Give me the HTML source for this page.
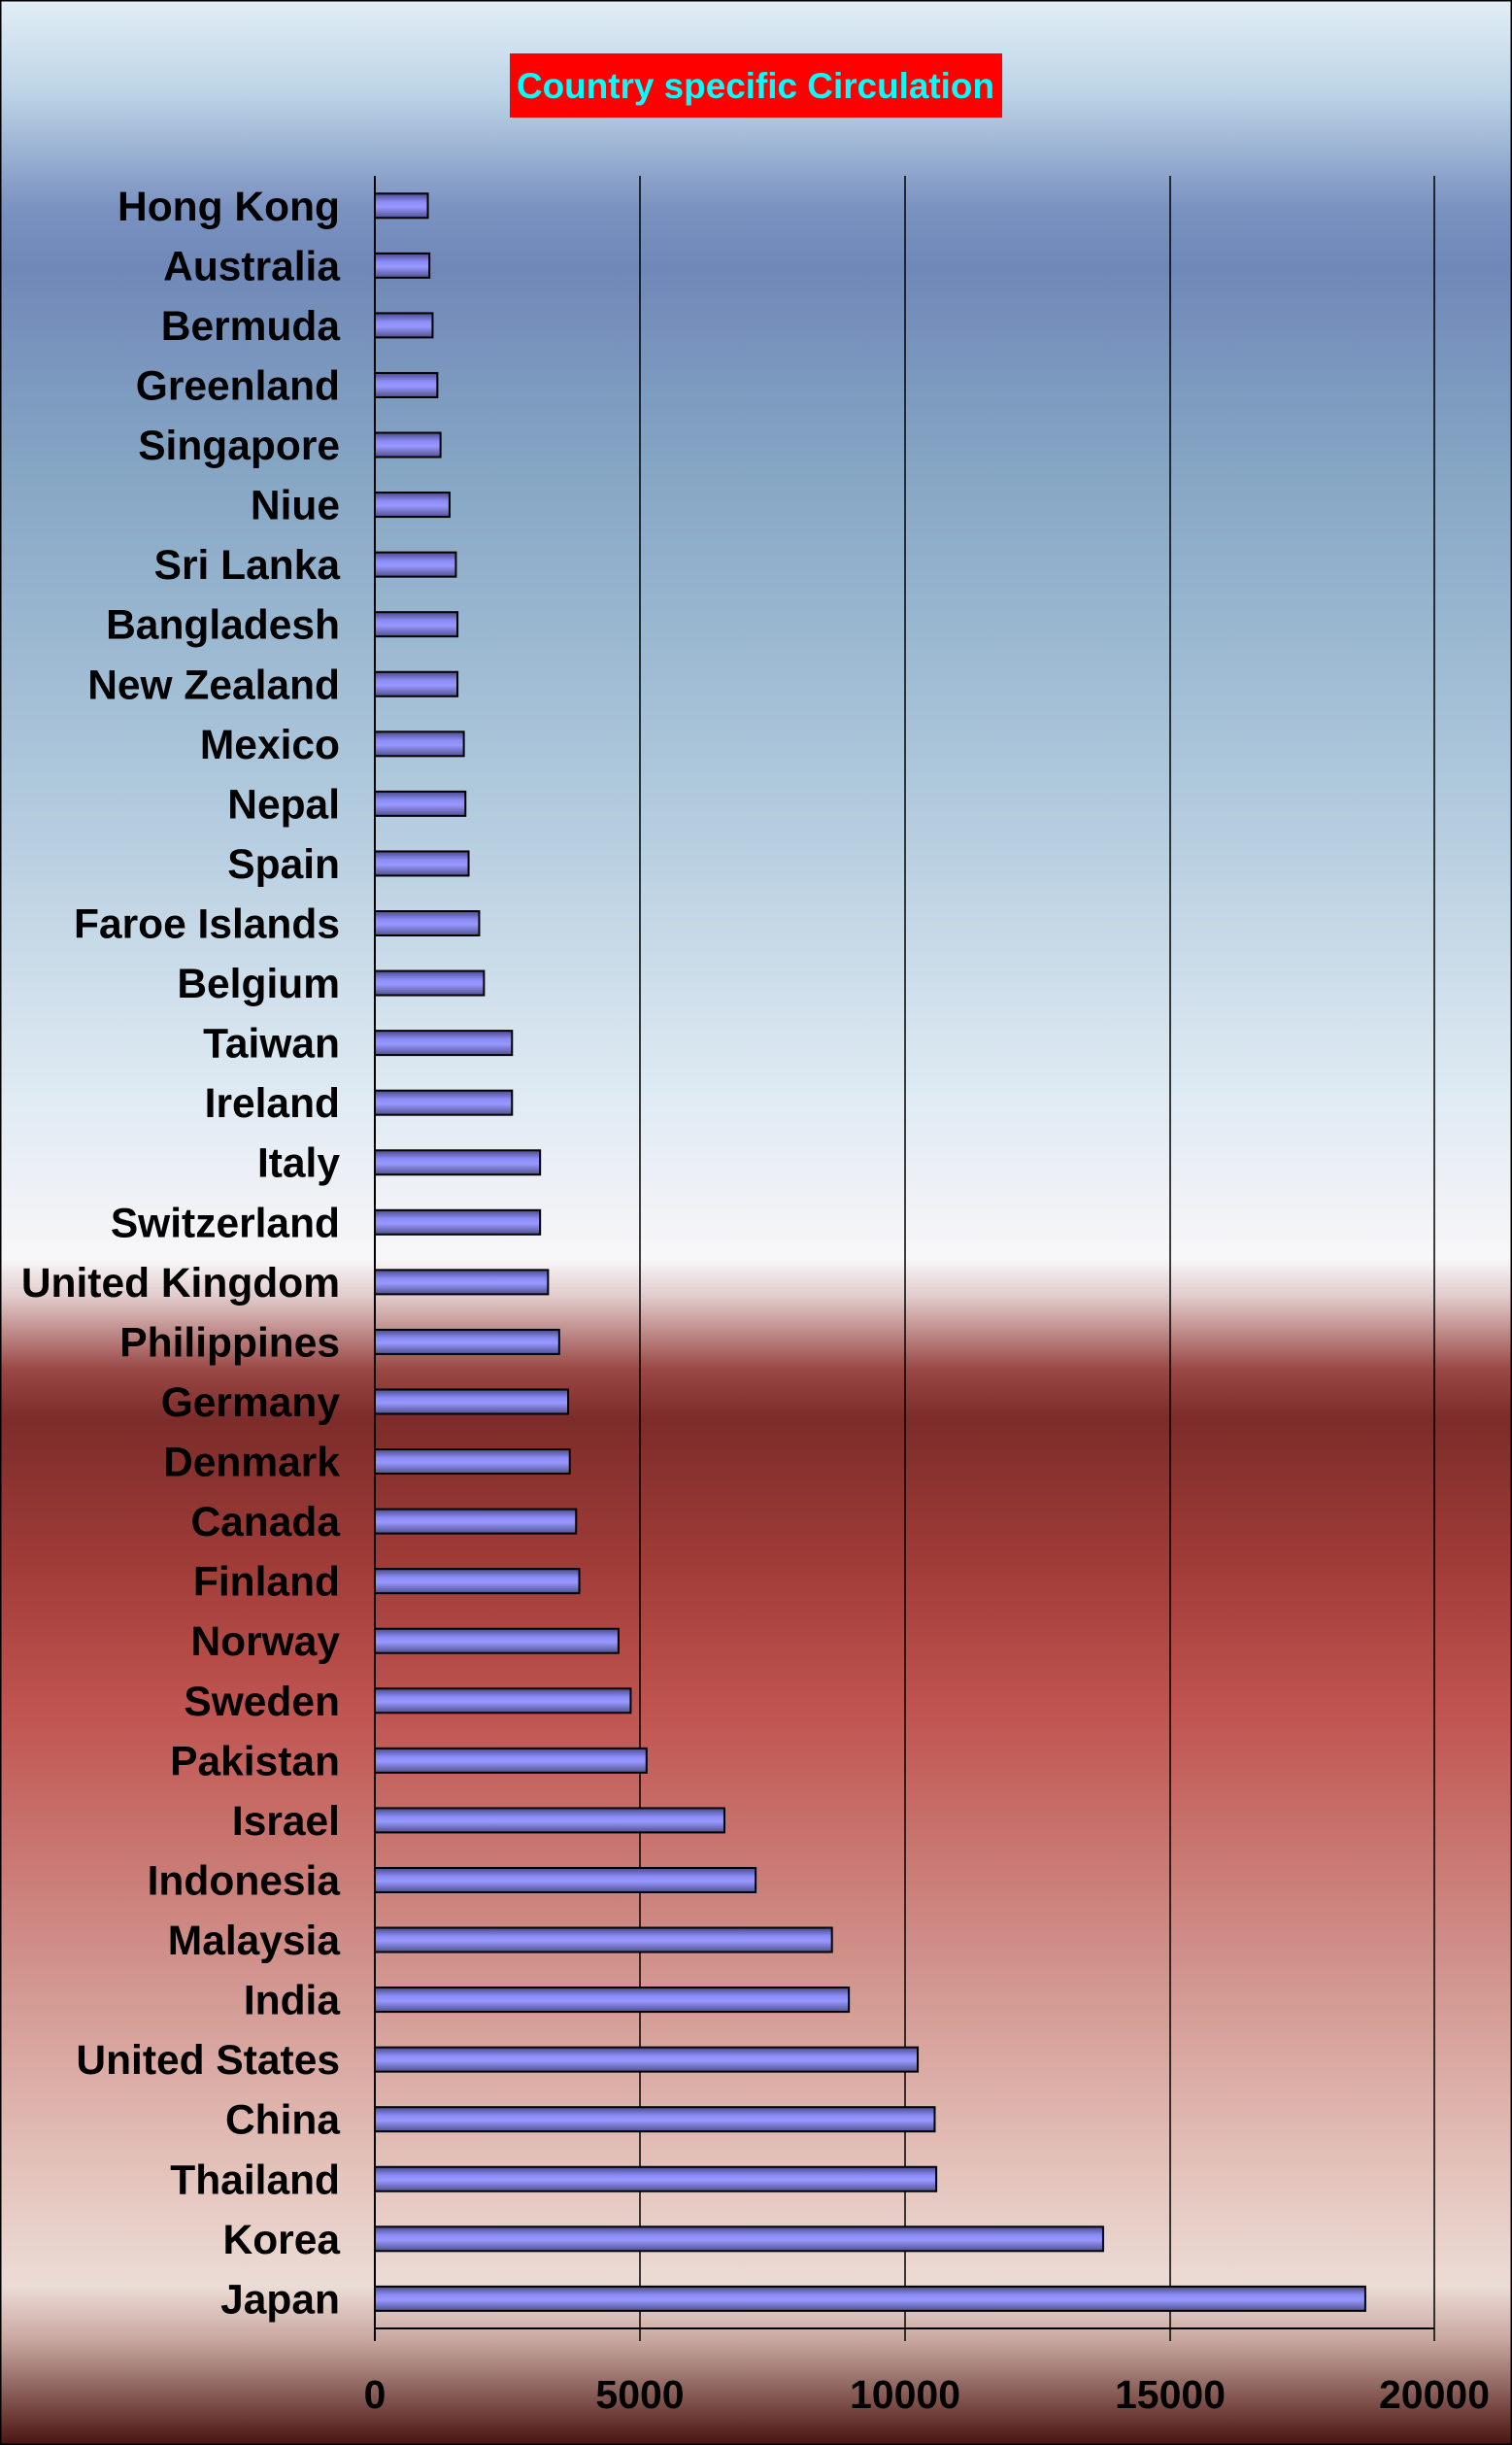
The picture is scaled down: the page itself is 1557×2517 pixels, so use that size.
<!DOCTYPE html>
<html><head><meta charset="utf-8"><style>
html,body{margin:0;padding:0;width:1557px;height:2517px;overflow:hidden}
</style></head><body>
<svg width="1557" height="2517" viewBox="0 0 1557 2517" xmlns="http://www.w3.org/2000/svg">
<defs>
<linearGradient id="bg" x1="0" y1="0" x2="0" y2="1">
<stop offset="0" stop-color="#e2eef6"/>
<stop offset="0.038" stop-color="#bcd4e6"/>
<stop offset="0.085" stop-color="#7a92c0"/>
<stop offset="0.11" stop-color="#7088b8"/>
<stop offset="0.19" stop-color="#85a5c4"/>
<stop offset="0.32" stop-color="#aec8dc"/>
<stop offset="0.45" stop-color="#e0ebf3"/>
<stop offset="0.515" stop-color="#f8f6f8"/>
<stop offset="0.53" stop-color="#e2cccc"/>
<stop offset="0.56" stop-color="#9a4845"/>
<stop offset="0.58" stop-color="#7c2c2a"/>
<stop offset="0.64" stop-color="#a03c38"/>
<stop offset="0.70" stop-color="#c05450"/>
<stop offset="0.80" stop-color="#d0908a"/>
<stop offset="0.89" stop-color="#e4c4bc"/>
<stop offset="0.935" stop-color="#ecdcd6"/>
<stop offset="0.957" stop-color="#c8a8a0"/>
<stop offset="1" stop-color="#4a1410"/>
</linearGradient>
<linearGradient id="bar" x1="0" y1="0" x2="0" y2="1">
<stop offset="0" stop-color="#4a4a8a"/>
<stop offset="0.35" stop-color="#8c8cf8"/>
<stop offset="0.55" stop-color="#9898ff"/>
<stop offset="1" stop-color="#505090"/>
</linearGradient>
</defs>
<rect x="0" y="0" width="1557" height="2517" fill="url(#bg)" stroke="#000" stroke-width="3"/>
<rect x="525" y="55" width="507" height="66" fill="#ff0000"/>
<text x="778" y="101" text-anchor="middle" font-family="Liberation Sans, sans-serif" font-weight="bold" font-size="37" fill="#00ffff" textLength="492" lengthAdjust="spacingAndGlyphs">Country specific Circulation</text>
<g stroke="#000" stroke-width="1.5">
<line x1="659" y1="181" x2="659" y2="2410"/>
<line x1="932" y1="181" x2="932" y2="2410"/>
<line x1="1205" y1="181" x2="1205" y2="2410"/>
<line x1="1477" y1="181" x2="1477" y2="2410"/>
<line x1="386" y1="181" x2="386" y2="2410" stroke-width="2"/>
<line x1="386" y1="2397" x2="1477" y2="2397" stroke-width="2"/>
</g>
<g font-family="Liberation Sans, sans-serif" font-weight="bold" font-size="41" fill="#000" text-anchor="middle">
<text x="386" y="2479">0</text><text x="659" y="2479">5000</text><text x="932" y="2479">10000</text><text x="1205" y="2479">15000</text><text x="1477" y="2479">20000</text>
</g>
<g id="bars" font-family="Liberation Sans, sans-serif" font-weight="bold" font-size="42.5" fill="#000" text-anchor="end"></g>
</svg>
<script>
var d=[["Hong Kong",1000],["Australia",1030],["Bermuda",1090],["Greenland",1180],["Singapore",1240],["Niue",1410],["Sri Lanka",1530],["Bangladesh",1560],["New Zealand",1560],["Mexico",1680],["Nepal",1710],["Spain",1770],["Faroe Islands",1970],["Belgium",2060],["Taiwan",2590],["Ireland",2590],["Italy",3120],["Switzerland",3120],["United Kingdom",3270],["Philippines",3480],["Germany",3650],["Denmark",3680],["Canada",3800],["Finland",3860],["Norway",4600],["Sweden",4830],["Pakistan",5130],["Israel",6600],["Indonesia",7190],["Malaysia",8630],["India",8950],["United States",10250],["China",10570],["Thailand",10600],["Korea",13750],["Japan",18700]];
var g=document.getElementById("bars"),s="";
d.forEach(function(r,i){var c=181+(i+0.5)*61.56;var w=r[1]*272.7/5000;
s+='<rect x="386" y="'+(c-12.5)+'" width="'+w+'" height="25" fill="url(#bar)" stroke="#000" stroke-width="2"/>';
s+='<text x="350" y="'+(c+15)+'">'+r[0]+'</text>';});
g.innerHTML=s;
</script>
</body></html>
